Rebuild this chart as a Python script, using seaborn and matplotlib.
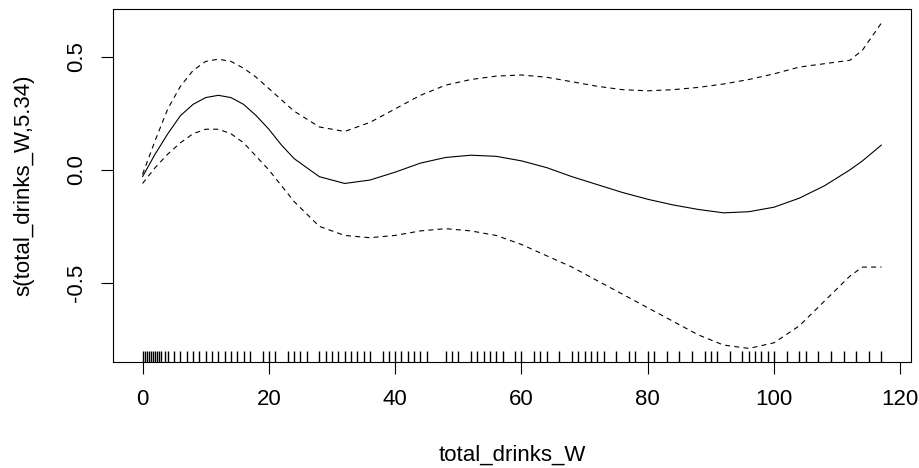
import numpy as np
import pandas as pd
import matplotlib
matplotlib.use("Agg")
import matplotlib.pyplot as plt
import seaborn as sns

# smooth term s(total_drinks_W), with its +/- 2 SE bands
x_grid = [0, 2, 4, 6, 8, 10, 12, 14, 16, 18, 20, 22, 24, 28, 32, 36, 40, 44, 48,
          52, 56, 60, 64, 68, 72, 76, 80, 84, 88, 92, 96, 100, 104, 108, 112, 114, 117]
fit = [-0.03, 0.07, 0.16, 0.24, 0.29, 0.32, 0.33, 0.32, 0.29, 0.24, 0.18, 0.11, 0.05,
       -0.03, -0.06, -0.045, -0.01, 0.03, 0.055, 0.065, 0.06, 0.04, 0.01, -0.03, -0.065,
       -0.10, -0.13, -0.155, -0.175, -0.19, -0.185, -0.165, -0.125, -0.07, 0.0, 0.04, 0.11]
upper = [-0.02, 0.13, 0.27, 0.37, 0.44, 0.48, 0.49, 0.48, 0.45, 0.41, 0.36, 0.31, 0.26,
         0.19, 0.17, 0.21, 0.27, 0.33, 0.375, 0.40, 0.415, 0.42, 0.41, 0.39, 0.37,
         0.355, 0.35, 0.355, 0.365, 0.38, 0.40, 0.425, 0.455, 0.47, 0.485, 0.53, 0.65]
lower = [-0.06, 0.01, 0.07, 0.12, 0.16, 0.18, 0.18, 0.16, 0.12, 0.06, 0.0, -0.07, -0.14,
         -0.25, -0.29, -0.30, -0.29, -0.27, -0.26, -0.27, -0.29, -0.33, -0.38, -0.43, -0.49,
         -0.55, -0.61, -0.67, -0.73, -0.775, -0.79, -0.765, -0.69, -0.58, -0.47, -0.43, -0.43]

# observed values shown as a rug
rug_x = [0, 0.33, 0.67, 1, 1.33, 1.67, 2, 2.33, 2.67, 3, 3.5, 4, 5, 6, 7, 8, 9, 10, 11,
         12, 13, 14, 15, 16, 17, 19, 20, 21, 23, 24, 25, 26, 28, 29, 30, 31, 32, 33, 34,
         35, 36, 38, 39, 40, 41, 42, 43, 44, 45, 48, 49, 50, 52, 53, 54, 55, 56, 57, 59,
         60, 62, 63, 64, 66, 68, 69, 70, 71, 72, 73, 75, 77, 78, 80, 81, 83, 85, 87, 89,
         90, 91, 93, 95, 96, 97, 98, 99, 100, 102, 104, 105, 107, 109, 111, 113, 115, 117]

x_ticks = [0, 20, 40, 60, 80, 100, 120]
y_ticks = [-0.5, 0.0, 0.5]

sns.set_theme(style="white")
plt.rcParams['font.family'] = ['Liberation Sans', 'DejaVu Sans']

fig = plt.figure(figsize=(9.2, 4.68), dpi=100)
ax = fig.add_axes([0.1228, 0.2265, 0.8674, 0.7543])

df = pd.DataFrame({'x': x_grid, 'fit': fit, 'upper': upper, 'lower': lower})
dash = (0, (4.5, 3.8))
sns.lineplot(data=df, x='x', y='fit', color='black', lw=0.8, ax=ax)
sns.lineplot(data=df, x='x', y='upper', color='black', lw=0.8, linestyle=dash, ax=ax)
sns.lineplot(data=df, x='x', y='lower', color='black', lw=0.8, linestyle=dash, ax=ax)
sns.rugplot(x=rug_x, height=0.03, color='black', lw=0.7, ax=ax)

ax.set_xlim(-4.68, 121.68)
ax.set_ylim(-0.850, 0.712)
ax.set_xticks(x_ticks)
ax.set_xticklabels([str(v) for v in x_ticks])
ax.set_yticks(y_ticks)
ax.set_yticklabels(['-0.5', '0.0', '0.5'], rotation=90, va='center')

for s in ax.spines.values():
    s.set_color('black')
    s.set_linewidth(0.8)

fs = 16
ax.tick_params(axis='both', direction='out', length=8.6, width=0.8, color='black',
               labelsize=fs, labelcolor='black', bottom=True, left=True)
ax.tick_params(axis='x', pad=11)
ax.tick_params(axis='y', pad=10)

ax.set_xlabel('total_drinks_W', fontsize=fs, color='black')
ax.set_ylabel('s(total_drinks_W,5.34)', fontsize=fs, color='black')
ax.xaxis.set_label_coords(0.5, -0.235)
ax.yaxis.set_label_coords(-0.098, 0.5)

fig.savefig('out.png', dpi=100)
